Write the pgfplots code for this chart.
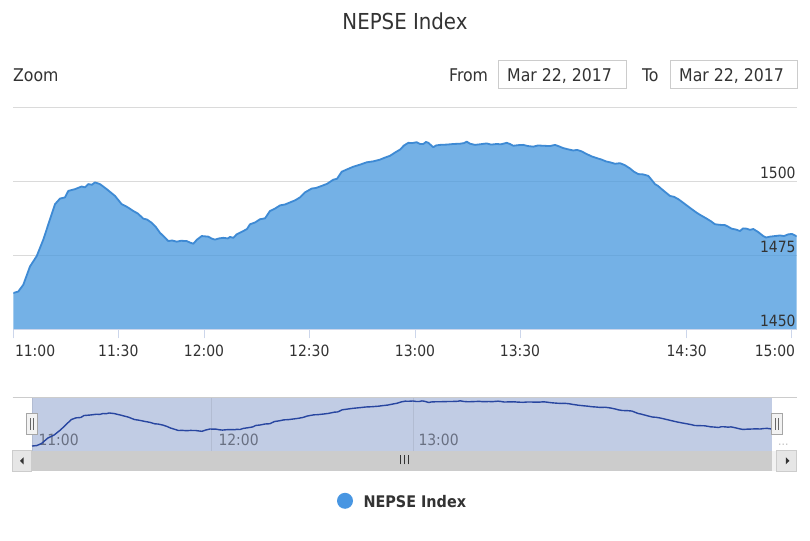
\documentclass[border=0pt]{standalone}
\usepackage{fontspec}
\setmainfont{DejaVu Sans Condensed}
\usepackage{pgfplots}
\usepackage{pgfplotstable}
\pgfplotsset{compat=1.18}
\definecolor{areaC}{RGB}{70,152,222}
\definecolor{lineC}{RGB}{62,138,212}
\definecolor{gridC}{RGB}{218,218,218}
\definecolor{axisC}{RGB}{204,214,235}
\definecolor{txtC}{RGB}{51,51,51}
\definecolor{maskC}{RGB}{193,204,228}
\definecolor{navLine}{RGB}{40,70,160}
\definecolor{navGrid}{RGB}{178,188,210}
\definecolor{navTxt}{RGB}{105,112,130}
\definecolor{legC}{RGB}{72,150,226}
\definecolor{boxC}{RGB}{204,204,204}
\definecolor{trackC}{RGB}{242,242,242}
\definecolor{btnC}{RGB}{230,230,230}
\definecolor{thumbC}{RGB}{204,204,204}
\pgfplotstableread{
x y
13.3 1462.3
18.3 1462.8
23.3 1465.1
30 1471.3
36.7 1474.8
43.3 1480.4
50 1487.3
55 1492.4
60 1494.3
65 1494.7
68.3 1496.9
75 1497.5
78 1497.9
81.7 1498.4
85 1498.1
88.3 1499.2
92 1499.0
95 1499.8
100 1499.2
106.7 1497.5
115 1495.2
121.7 1492.4
127 1491.5
133.3 1490.1
138 1489.2
143.3 1487.5
147 1487.2
151.7 1486.1
156 1484.6
160 1482.7
164 1481.4
168.3 1479.9
172 1480.1
176.7 1479.7
181 1480.0
186.7 1479.9
190 1479.4
193.3 1479.0
197 1480.4
201.7 1481.6
205 1481.5
208.3 1481.4
212 1480.7
215 1480.4
219 1480.8
223.3 1481.0
228 1480.8
230 1481.3
233.3 1481.0
236.7 1482.2
243.3 1483.3
247 1484.0
250 1485.6
255 1486.2
260 1487.3
265 1487.6
270 1490.1
275 1490.9
280 1492.0
285 1492.3
290 1493.0
295 1493.7
300 1494.7
305 1496.4
311.7 1497.7
316 1497.9
321.7 1498.6
327 1499.3
333.3 1500.7
337 1501.0
341.7 1503.4
347 1504.2
353.3 1505.1
360 1505.8
366.7 1506.6
373 1506.9
380 1507.5
385 1508.2
390 1508.8
395 1509.9
400 1510.9
404 1512.3
408.3 1513.2
412 1513.1
416.7 1513.4
420 1512.8
423.3 1512.8
426 1513.5
428.3 1513.2
431 1512.4
433.3 1511.7
436 1512.3
440 1512.5
447 1512.6
453.3 1512.8
460 1512.9
464 1513.1
466.7 1513.6
470 1512.9
475 1512.5
480 1512.7
486.7 1513.0
491 1512.6
496.7 1512.8
501 1512.7
506.7 1513.2
510 1512.8
513.3 1512.2
518 1512.4
523.3 1512.5
528 1512.1
533.3 1511.9
538 1512.3
543.3 1512.2
550 1512.1
555 1512.5
559 1512.0
563.3 1511.4
568 1511.0
573.3 1510.6
577 1510.8
581.7 1510.3
586 1509.5
591.7 1508.6
596 1508.1
601.7 1507.5
606 1506.9
610 1506.6
615 1506.1
620 1506.3
625 1505.6
630 1504.5
634 1503.4
638.3 1502.6
643 1502.5
648.3 1502.0
651 1500.9
655 1499.2
658 1498.6
661.7 1497.5
666 1496.3
670 1495.2
674 1494.9
678.3 1494.1
682 1493.2
686.7 1492.0
691 1490.9
696.7 1489.5
701 1488.6
706.7 1487.5
711 1486.6
715 1485.6
720 1485.4
725 1485.3
728 1484.8
731.7 1484.1
736 1483.8
740 1483.3
743 1484.2
746.7 1484.1
750 1483.7
753.3 1484.0
758 1483.0
763.3 1481.6
766 1481.1
770 1481.4
775 1481.6
780 1481.8
784 1481.6
788.3 1482.2
792 1482.3
796.7 1481.5
}\nepse
\begin{document}
\begin{tikzpicture}[x=1pt,y=1pt]
\fill[white] (0,0) rectangle (810,540);
% title
\node[anchor=base, text=txtC, font=\fontsize{22}{26}\selectfont, inner sep=0pt] at (405,510) {NEPSE Index};
% range selector
\node[anchor=base west, text=txtC, font=\fontsize{17.5}{20}\selectfont, inner sep=0pt] at (13,458.5) {Zoom};
\node[anchor=base west, text=txtC, font=\fontsize{17.5}{20}\selectfont, inner sep=0pt] at (449,458.5) {From};
\draw[boxC, fill=white, line width=1pt] (498.5,479) rectangle (626,451);
\node[anchor=base west, text=txtC, font=\fontsize{17.5}{20}\selectfont, inner sep=0pt] at (507,458.5) {Mar 22, 2017};
\node[anchor=base west, text=txtC, font=\fontsize{17.5}{20}\selectfont, inner sep=0pt] at (642,458.5) {To};
\draw[boxC, fill=white, line width=1pt] (670,479) rectangle (797,451);
\node[anchor=base west, text=txtC, font=\fontsize{17.5}{20}\selectfont, inner sep=0pt] at (679,458.5) {Mar 22, 2017};

% main chart
\pgfplotsset{mainframe/.style={
  at={(13.3pt,210.7pt)}, anchor=south west, scale only axis,
  width=783.4pt, height=221.3pt,
  xmin=13.3, xmax=796.7, ymin=1450, ymax=1525,
  axis line style={draw=none}}}
\begin{axis}[
  mainframe,
  ymajorgrids, grid style={gridC, line width=1pt},
  ytick={1450,1475,1500,1525}, yticklabels={},
  ytick style={draw=none},
  xtick={13.3,118.3,204,309.3,415,520,686.7,791.7},
  xticklabels={{\makebox[0pt][l]{\kern1.7pt 11:00}},11:30,12:00,12:30,13:00,13:30,14:30,{\makebox[0pt][r]{15:00\kern-3.3pt}}},
  xtick pos=left, tick align=inside, major tick length=9pt,
  xtick style={axisC, line width=1pt, yshift=-9pt},
  xticklabel style={anchor=north, inner sep=0pt, yshift=-15pt, text=txtC, font=\fontsize{15.5}{18}\selectfont},
]
\addplot[draw=none, fill=areaC, fill opacity=0.75] table[x=x,y=y] {\nepse} \closedcycle;
\addplot[lineC, line width=1.8pt, line join=round] table[x=x,y=y] {\nepse};
\draw[axisC, line width=1pt] (axis cs:13.3,1450) -- (axis cs:796.7,1450);
\end{axis}
% overlay axis carrying the y tick labels on top of the area
\begin{axis}[
  mainframe,
  xtick=\empty,
  ytick={1450,1475,1500}, yticklabels={1450,1475,1500},
  yticklabel pos=right, ytick style={draw=none},
  yticklabel style={anchor=south east, inner sep=0pt, xshift=-1pt, yshift=2.5pt, text=txtC, font=\fontsize{15.5}{18}\selectfont},
]
\end{axis}

% navigator background
\fill[maskC] (31.7,89.3) rectangle (772.3,142.7);
\draw[navGrid, line width=0.8pt] (32,89.3) -- (32,142.7);
\draw[navGrid, line width=0.8pt] (211.7,89.3) -- (211.7,142.7);
\draw[navGrid, line width=0.8pt] (413.3,89.3) -- (413.3,142.7);
\draw[boxC, line width=1pt] (12.7,142.7) -- (796.7,142.7);
\node[anchor=base west, text=navTxt, font=\fontsize{15.5}{18}\selectfont, inner sep=0pt] at (38.3,94.3) {11:00};
\node[anchor=base west, text=navTxt, font=\fontsize{15.5}{18}\selectfont, inner sep=0pt] at (218.3,94.3) {12:00};
\node[anchor=base west, text=navTxt, font=\fontsize{15.5}{18}\selectfont, inner sep=0pt] at (418.3,94.3) {13:00};
\node[anchor=base west, text=gray!50, font=\fontsize{12}{14}\selectfont, inner sep=0pt] at (778,94.3) {...};

% navigator series
\begin{axis}[
  at={(13.3pt,89.3pt)}, anchor=south west, scale only axis,
  width=783.4pt, height=53.4pt,
  xmin=-6.5, xmax=822.84, ymin=1457, ymax=1517.6,
  hide axis,
]
\addplot[navLine, line width=1.4pt, line join=round] table[x=x,y=y] {\nepse};
\end{axis}

% scrollbar
\fill[trackC] (12.7,69) rectangle (796.7,89.3);
\filldraw[fill=btnC, draw=boxC, line width=0.8pt] (12.7,69) rectangle (31.7,89.3);
\fill[thumbC] (31.7,69.3) rectangle (772.3,89);
\filldraw[fill=btnC, draw=boxC, line width=0.8pt] (776.7,69) rectangle (796.7,89.3);
\fill[txtC] (20,79.15) -- (23.5,82.6) -- (23.5,75.7) -- cycle;
\fill[txtC] (789.4,79.15) -- (785.9,82.6) -- (785.9,75.7) -- cycle;
\draw[txtC, line width=1.3pt] (400.5,75.5) -- (400.5,85) (404.5,75.5) -- (404.5,85) (408.5,75.5) -- (408.5,85);

% handles
\filldraw[fill=trackC, draw=gray!70, line width=0.8pt] (26.7,105.7) rectangle (37.3,126.7);
\draw[gray!80!black, line width=0.8pt] (30.7,110) -- (30.7,122) (33.3,110) -- (33.3,122);
\filldraw[fill=trackC, draw=gray!70, line width=0.8pt] (771.7,105.7) rectangle (782.3,126.7);
\draw[gray!80!black, line width=0.8pt] (775.7,110) -- (775.7,122) (778.3,110) -- (778.3,122);

% legend
\fill[legC] (345,39.2) circle (8);
\node[anchor=base west, text=txtC, font=\bfseries\fontsize{16}{19}\selectfont, inner sep=0pt] at (363.3,32.3) {NEPSE Index};
\pgfresetboundingbox
\path[use as bounding box] (0,0) rectangle (810,540);
\end{tikzpicture}
\end{document}
